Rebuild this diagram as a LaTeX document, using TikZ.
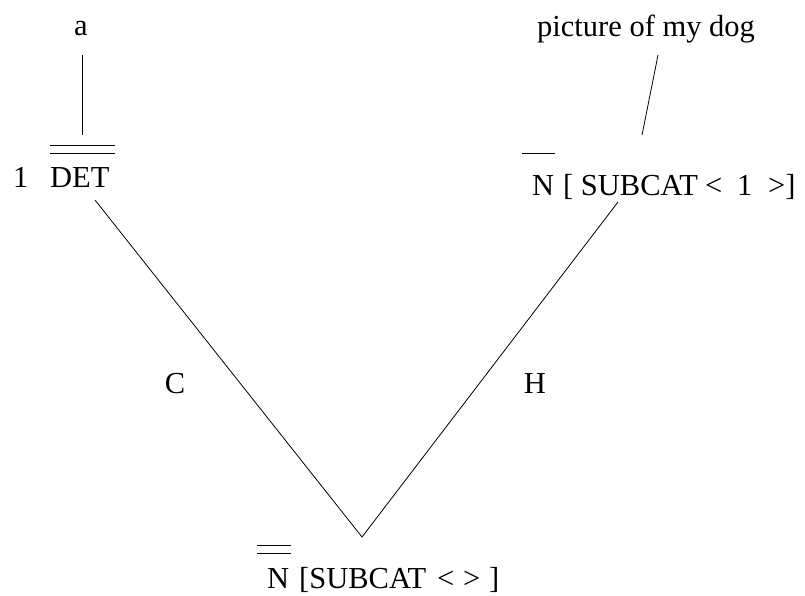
\documentclass[tikz,border=0pt]{standalone}
\usepackage{fontspec}
\setmainfont{Liberation Serif}
\begin{document}
\begin{tikzpicture}[x=1pt,y=-1pt,
  lbl/.style={inner sep=0pt, anchor=base west, font=\fontsize{30.5}{36}\selectfont},
  edge/.style={line width=0.8pt},
  bar/.style={line width=1pt}]
\useasboundingbox (0,0) rectangle (805,595);
% top words
\node[lbl, anchor=base] (wa) at (81,35) {a};
\node[lbl] (wdog) at (537,36) {picture of my dog};
% left daughter
\node[lbl] (one) at (13,187) {1};
\node[lbl] (det) at (50,187) {DET};
% right daughter
\node[lbl] (nr) at (532,195) {N};
\node[lbl] (subr) at (563,195) {[ SUBCAT};
\node[lbl] (ltr) at (705,195) {<};
\node[lbl] (oner) at (737,195) {1};
\node[lbl] (gtr) at (768,195) {>]};
% mother
\node[lbl] (nm) at (267,588) {N};
\node[lbl] (subm) at (299,588) {[SUBCAT};
\node[lbl] (ltm) at (437,588) {<};
\node[lbl] (gtm) at (463,588) {>};
\node[lbl] (rbm) at (489,588) {]};
% labels
\node[lbl, anchor=base] (c) at (175,393) {C};
\node[lbl, anchor=base] (h) at (535,393) {H};
% bars
\draw[bar] (50,145) -- (115,145);
\draw[bar] (50,153) -- (115,153);
\draw[bar] (522,153) -- (555,153);
\draw[bar] (257,545) -- (291,545);
\draw[bar] (257,553) -- (291,553);
% connectors
\coordinate (v) at (362,537);
\coordinate (atop) at (82,55);
\coordinate (abot) at (82,135);
\coordinate (dtop) at (658,55);
\coordinate (dbot) at (642,135);
\coordinate (dl) at (95,200);
\coordinate (dr) at (618,202);
\draw[edge] (atop) -- (abot);
\draw[edge] (dtop) -- (dbot);
\draw[edge] (dl) -- (v) -- (dr);
\end{tikzpicture}
\end{document}
